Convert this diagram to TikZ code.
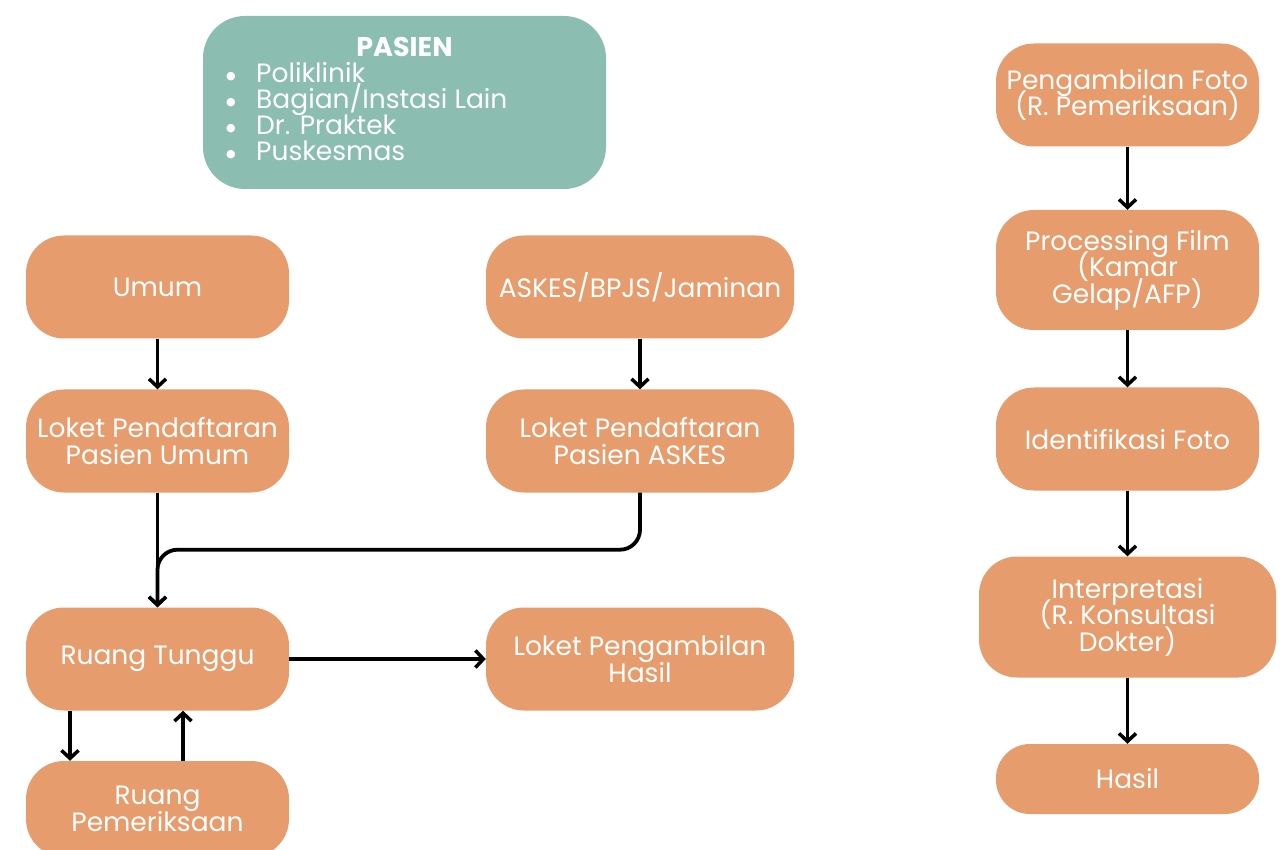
\documentclass[tikz,border=0pt]{standalone}
\usepackage{fontspec}
\setmainfont{Poppins}
\newfontfamily\dejavu{DejaVu Sans}
\usetikzlibrary{arrows.meta}
\definecolor{orng}{HTML}{E69C6C}
\definecolor{tealb}{HTML}{8BBEB0}
\newcommand{\bfont}{\fontsize{26.5}{26.5}\selectfont\lineskiplimit=-40pt\lineskip=0pt}
\newcommand{\mybul}{\makebox[32pt][l]{\hspace{2pt}\raisebox{3.5pt}{\dejavu\fontsize{11}{11}\selectfont ●}}}
\begin{document}
\begin{tikzpicture}[x=1pt,y=-1pt,
  box/.style={fill=orng, rounded corners=38pt, text=white, font=\bfont, align=center, inner sep=0pt, minimum width=263pt, minimum height=103pt},
  txt/.style={text=white, font=\bfont, inner sep=0pt},
  arr/.style={line width=3.8pt, -{Straight Barb[length=8pt,width=17pt,line width=3.5pt]}}]
\useasboundingbox (0,0) rectangle (1286,850);
% PASIEN box
\node[fill=tealb, rounded corners=42pt, minimum width=403pt, minimum height=173pt, inner sep=0pt] (pasien) at (404.5,102.5) {};
\node[txt, font=\fontsize{27}{27}\selectfont\bfseries, anchor=base] (ptitle) at (404.5,57) {PASIEN};
\node[txt, anchor=base west] (p1) at (224,83) {\mybul Poliklinik};
\node[txt, anchor=base west] (p2) at (224,109) {\mybul Bagian/Instasi Lain};
\node[txt, anchor=base west] (p3) at (224,135) {\mybul Dr. Praktek};
\node[txt, anchor=base west] (p4) at (224,161) {\mybul Puskesmas};
% left columns
\node[box] (umum) at (157.5,287) {Umum};
\node[box, minimum width=308pt] (askes) at (640,287) {ASKES/BPJS/Jaminan};
\node[box] (lpu) at (157.5,441) {Loket Pendaftaran\\Pasien Umum};
\node[box, minimum width=308pt] (lpa) at (640,441) {Loket Pendaftaran\\Pasien ASKES};
\node[box] (rt) at (157.5,659) {Ruang Tunggu};
\node[box, minimum width=308pt] (lph) at (640,659) {Loket Pengambilan\\Hasil};
\node[box, minimum height=96pt] (rp) at (157.5,809) {Ruang\\Pemeriksaan};
% right column
\node[box] (foto) at (1127.5,95) {Pengambilan Foto\\(R. Pemeriksaan)};
\node[box, minimum height=120pt] (proc) at (1127.5,270) {Processing Film\\(Kamar\\Gelap/AFP)};
\node[box] (ident) at (1127.5,439) {Identifikasi Foto};
\node[box, minimum width=297pt, minimum height=121pt] (interp) at (1127.5,617) {Interpretasi\\(R. Konsultasi\\Dokter)};
\node[box, minimum height=70pt, rounded corners=34pt] (hasil) at (1127.5,779) {Hasil};
% connectors
\draw[arr] (umum) -- (lpu);
\draw[arr] (askes) -- (lpa);
\draw[arr] (lpu) -- (rt);
\draw[arr, rounded corners=20pt] (lpa.south) -- ++(0,57) -| (rt.north);
\draw[arr] (rt) -- (lph);
\draw[arr] ([xshift=-87.5pt]rt.south) -- ([xshift=-87.5pt]rp.north);
\draw[arr] ([xshift=25.5pt]rp.north) -- ([xshift=25.5pt]rt.south);
\draw[arr] (foto) -- (proc);
\draw[arr] (proc) -- (ident);
\draw[arr] (ident) -- (interp);
\draw[arr] (interp) -- (hasil);
\end{tikzpicture}
\end{document}
